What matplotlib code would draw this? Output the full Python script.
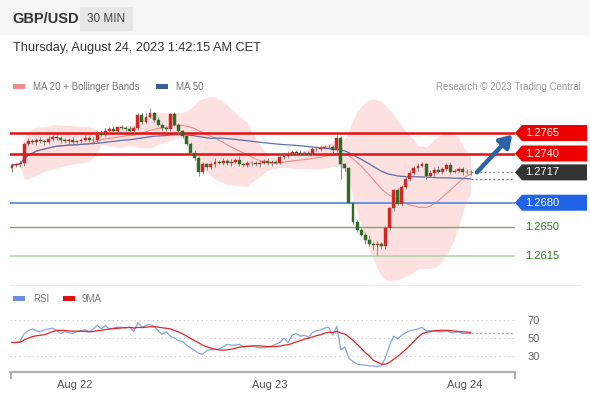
import numpy as np
import pandas as pd
import matplotlib
matplotlib.use("Agg")
import matplotlib.pyplot as plt
from matplotlib.patches import Rectangle, Polygon

plt.rcParams['font.family'] = ['Liberation Sans', 'DejaVu Sans']

# 30 min closes, GBP/USD
closes = [
    1.2726, 1.2727, 1.2729, 1.2752, 1.2755, 1.2754, 1.2757, 1.2755, 1.2754, 1.2758,
    1.2760, 1.2759, 1.2756, 1.2755, 1.2757, 1.2754, 1.2755, 1.2757, 1.2759, 1.2757,
    1.2756, 1.2765, 1.2763, 1.2768, 1.2770, 1.2768, 1.2772, 1.2771, 1.2770, 1.2768,
    1.2771, 1.2787, 1.2779, 1.2785, 1.2789, 1.2781, 1.2775, 1.2771, 1.2770, 1.2788,
    1.2775, 1.2767, 1.2761, 1.2752, 1.2741, 1.2735, 1.2717, 1.2727, 1.2723, 1.2727,
    1.2730, 1.2729, 1.2731, 1.2728, 1.2730, 1.2732, 1.2727, 1.2726, 1.2728, 1.2729,
    1.2727, 1.2729, 1.2731, 1.2728, 1.2730, 1.2729, 1.2736, 1.2737, 1.2740, 1.2742,
    1.2741, 1.2740, 1.2741, 1.2740, 1.2745, 1.2746, 1.2747, 1.2748, 1.2748, 1.2744,
    1.2759, 1.2727, 1.2722, 1.2680, 1.2657, 1.2647, 1.2641, 1.2634, 1.2630, 1.2628,
    1.2630, 1.2627, 1.2649, 1.2673, 1.2695, 1.2679, 1.2699, 1.2709, 1.2716, 1.2722,
    1.2725, 1.2727, 1.2713, 1.2716, 1.2720, 1.2718, 1.2721, 1.2726, 1.2718, 1.2719,
    1.2721, 1.2717, 1.2718, 1.2717,
]
first_open = 1.2722
# wicks in pips
upper_wick = [
    3, 2, 3, 2, 4, 3, 2, 3, 2, 3,
    2, 3, 2, 3, 2, 3, 2, 2, 3, 2,
    3, 2, 4, 3, 2, 3, 2, 3, 2, 3,
    2, 3, 3, 4, 6, 2, 3, 2, 3, 2,
    3, 2, 2, 3, 2, 3, 2, 3, 2, 3,
    4, 2, 3, 2, 3, 2, 5, 2, 3, 2,
    2, 3, 2, 3, 2, 2, 3, 2, 3, 2,
    2, 3, 2, 2, 3, 2, 3, 2, 3, 2,
    4, 2, 2, 2, 2, 2, 2, 3, 6, 2,
    3, 2, 2, 2, 2, 3, 2, 3, 4, 3,
    4, 3, 2, 4, 3, 5, 2, 3, 4, 2,
    3, 2, 3, 2,
]
lower_wick = [
    4, 3, 3, 4, 3, 2, 3, 2, 3, 2,
    3, 2, 3, 2, 3, 2, 3, 2, 2, 3,
    2, 3, 2, 2, 3, 2, 3, 2, 3, 2,
    3, 2, 3, 2, 2, 3, 2, 3, 2, 3,
    2, 3, 2, 3, 2, 3, 4, 2, 3, 2,
    3, 2, 3, 2, 3, 2, 2, 3, 2, 3,
    2, 3, 2, 2, 3, 2, 2, 3, 2, 2,
    3, 2, 2, 3, 2, 2, 3, 2, 2, 3,
    2, 18, 3, 2, 3, 3, 2, 4, 3, 6,
    12, 4, 3, 2, 3, 2, 3, 2, 3, 2,
    3, 2, 4, 2, 3, 2, 3, 2, 3, 2,
    2, 3, 2, 3,
]
# RSI per candle
rsi_vals = [
    45, 45, 46, 55, 58, 60, 58, 57, 59, 60,
    61, 58, 55, 57, 56, 55, 57, 58, 59, 57,
    60, 64, 60, 64, 60, 61, 62, 62, 61, 62,
    57, 67, 62, 64, 65, 63, 58, 54, 57, 52,
    50, 47, 46, 42, 39, 36, 33, 32, 36, 37,
    37, 38, 40, 43, 42, 42, 43, 40, 41, 41,
    40, 39, 39, 40, 41, 43, 45, 50, 45, 53,
    55, 52, 53, 51, 56, 58, 59, 61, 62, 53,
    63, 37, 40, 27, 24, 21, 20, 20, 19, 19,
    18, 19, 28, 42, 52, 49, 53, 56, 58, 59,
    60, 62, 58, 58, 58, 57, 57, 58, 56, 56,
    57, 55, 55, 55,
]

resistances = [1.2765, 1.2740]
pivot = 1.2680
supports = [1.2650, 1.2615]
day_labels = ["Aug 22", "Aug 23", "Aug 24"]

c = pd.Series(closes)
o = c.shift(1).fillna(first_open)
hi = np.maximum(o, c) + np.array(upper_wick) * 0.0001
lo = np.minimum(o, c) - np.array(lower_wick) * 0.0001
n = len(c)
idx = np.arange(n)
times = pd.date_range("2023-08-21 16:00", periods=n, freq="30min")

ma20 = c.rolling(20, min_periods=1).mean()
sd20 = c.rolling(20, min_periods=2).std().bfill()
ma50 = c.rolling(50, min_periods=1).mean()

rsi = pd.Series(rsi_vals, dtype=float)
rsi_ma = rsi.rolling(9, min_periods=1).mean()

W, H = 590, 400
fig = plt.figure(figsize=(W / 100, H / 100), dpi=100)
fig.patch.set_facecolor("white")

ax = fig.add_axes([10 / W, 1 - 285 / H, 505 / W, 190 / H])
ax.set_xlim(-0.49, 123.9)
ax.set_ylim(1.25796, 1.28114)
ax.axis("off")

ax.fill_between(idx, ma20 - 2 * sd20, ma20 + 2 * sd20, color="#fde1e1", lw=0, zorder=1)
ax.plot(idx, ma20, color="#f08a8a", lw=0.8, zorder=2)
ax.plot(idx, ma50, color="#5b70a8", lw=0.9, zorder=2)

for p in resistances:
    ax.axhline(p, color="#e41010", lw=1.8, zorder=3)
ax.axhline(pivot, color="#6b94e0", lw=1.4, zorder=3)
ax.axhline(supports[0], color="#72ad62", lw=1.0, zorder=3)
ax.axhline(supports[1], color="#b2d6a8", lw=1.2, zorder=3)

for i in range(n):
    up = c[i] >= o[i]
    col = "#d42424" if up else "#2f6b24"
    ax.vlines(i, lo[i], hi[i], color="#888888", lw=0.7, zorder=4)
    b0 = min(o[i], c[i])
    bh = max(abs(c[i] - o[i]), 0.00004)
    ax.add_patch(Rectangle((i - 0.36, b0), 0.72, bh, facecolor=col,
                           edgecolor=col, lw=0.3, zorder=5))

ax.plot([n - 1, 123.9], [closes[-1]] * 2, color="#888888", lw=0.9, ls=(0, (1.5, 2)), zorder=3)
ax.plot([n - 1, 123.9], [ma50.iloc[-1]] * 2, color="#5b70a8", lw=0.9, ls=(0, (1.5, 2)), zorder=3)

ax.annotate("", xy=(123.2, 1.2763), xytext=(n + 0.5, closes[-1]),
            arrowprops=dict(arrowstyle="-|>,head_length=0.7,head_width=0.45",
                            color="#2d62a6", lw=3.2, shrinkA=0, shrinkB=0),
            annotation_clip=False, zorder=6)

rax = fig.add_axes([10 / W, 1 - 372 / H, 505 / W, 72 / H])
rax.set_xlim(-0.49, 123.9)
rax.set_ylim(12.2, 92.2)
for s in ["top", "left", "right"]:
    rax.spines[s].set_visible(False)
rax.spines["bottom"].set_color("#b0b0b0")
rax.spines["bottom"].set_linewidth(1.6)
for v in [70, 50, 30]:
    rax.axhline(v, color="#c4c4c4", lw=0.8, ls=(0, (1, 3)))
rax.plot(idx, rsi, color="#8aa4dc", lw=0.9)
rax.plot(idx, rsi_ma, color="#e02626", lw=0.9)
rax.plot([n - 1, 123.9], [rsi.iloc[-1]] * 2, color="#8aa4dc", lw=0.9, ls=(0, (1.5, 2)))
mid = [i - 0.5 for i in range(n) if times[i].hour == 0 and times[i].minute == 0]
rax.set_xticks(mid)
rax.set_xticklabels(day_labels[:len(mid)], fontsize=8, color="#555555")
rax.yaxis.tick_right()
rax.set_yticks([70, 50, 30])
rax.set_yticklabels(["70", "50", "30"], fontsize=8, color="#666666")
rax.tick_params(axis="both", length=0)
rax.tick_params(axis="x", pad=6)
rax.tick_params(axis="y", pad=9)

# overlay in pixel coords
ov = fig.add_axes([0, 0, 1, 1])
ov.set_xlim(0, W)
ov.set_ylim(H, 0)
ov.axis("off")
ov.patch.set_alpha(0)

ov.add_patch(Rectangle((0, 0), W, 35, facecolor="#f6f6f6", lw=0, zorder=0))
ov.add_patch(Rectangle((80, 7), 53, 24, facecolor="#e6e6e6", lw=0, zorder=1))
ov.text(12, 19, "GBP/USD", fontsize=10.5, fontweight="bold", color="#333333", va="center")
ov.text(106, 19, "30 MIN", fontsize=8.5, color="#444444", va="center", ha="center")
ov.text(13, 48, "Thursday, August 24, 2023 1:42:15 AM CET", fontsize=9.2, color="#333333", va="center")

ov.add_patch(Rectangle((13, 84), 12, 5, facecolor="#f28c8c", lw=0))
ov.text(33, 86.5, "MA 20 + Bollinger Bands", fontsize=7, color="#777777", va="center")
ov.add_patch(Rectangle((156, 84), 12, 5, facecolor="#3d5c99", lw=0))
ov.text(176, 86.5, "MA 50", fontsize=7, color="#777777", va="center")
ov.text(581, 86.5, "Research \u00a9 2023 Trading Central", fontsize=7, color="#9a9a9a",
        va="center", ha="right")

ov.plot([10, 580], [285, 285], color="#eeeeee", lw=0.8)
ov.add_patch(Rectangle((13, 296), 12, 5, facecolor="#6b8fdc", lw=0))
ov.text(33, 298.5, "RSI", fontsize=7, color="#777777", va="center")
ov.add_patch(Rectangle((63, 296), 12, 5, facecolor="#e01010", lw=0))
ov.text(82, 298.5, "9MA", fontsize=7, color="#777777", va="center")
ov.plot([11, 11], [372, 378], color="#b0b0b0", lw=1.4)
ov.plot([515, 515], [372, 378], color="#b0b0b0", lw=1.4)


def ypix(price):
    return H - ax.transData.transform((0, price))[1]


def tag(price, color):
    y = ypix(price)
    ov.add_patch(Polygon([(515, y), (522, y - 8), (587, y - 8), (587, y + 8), (522, y + 8)],
                         closed=True, facecolor=color, lw=0, zorder=5))
    ov.text(525, y, f"{price:.4f}", fontsize=8, color="white", va="center", zorder=6)


for p in resistances:
    tag(p, "#ee0000")
tag(closes[-1], "#333333")
tag(pivot, "#1f63e8")
for p in supports:
    ov.text(525, ypix(p), f"{p:.4f}", fontsize=8, color="#2d7a1e", va="center")

fig.savefig("out.png", dpi=100)
